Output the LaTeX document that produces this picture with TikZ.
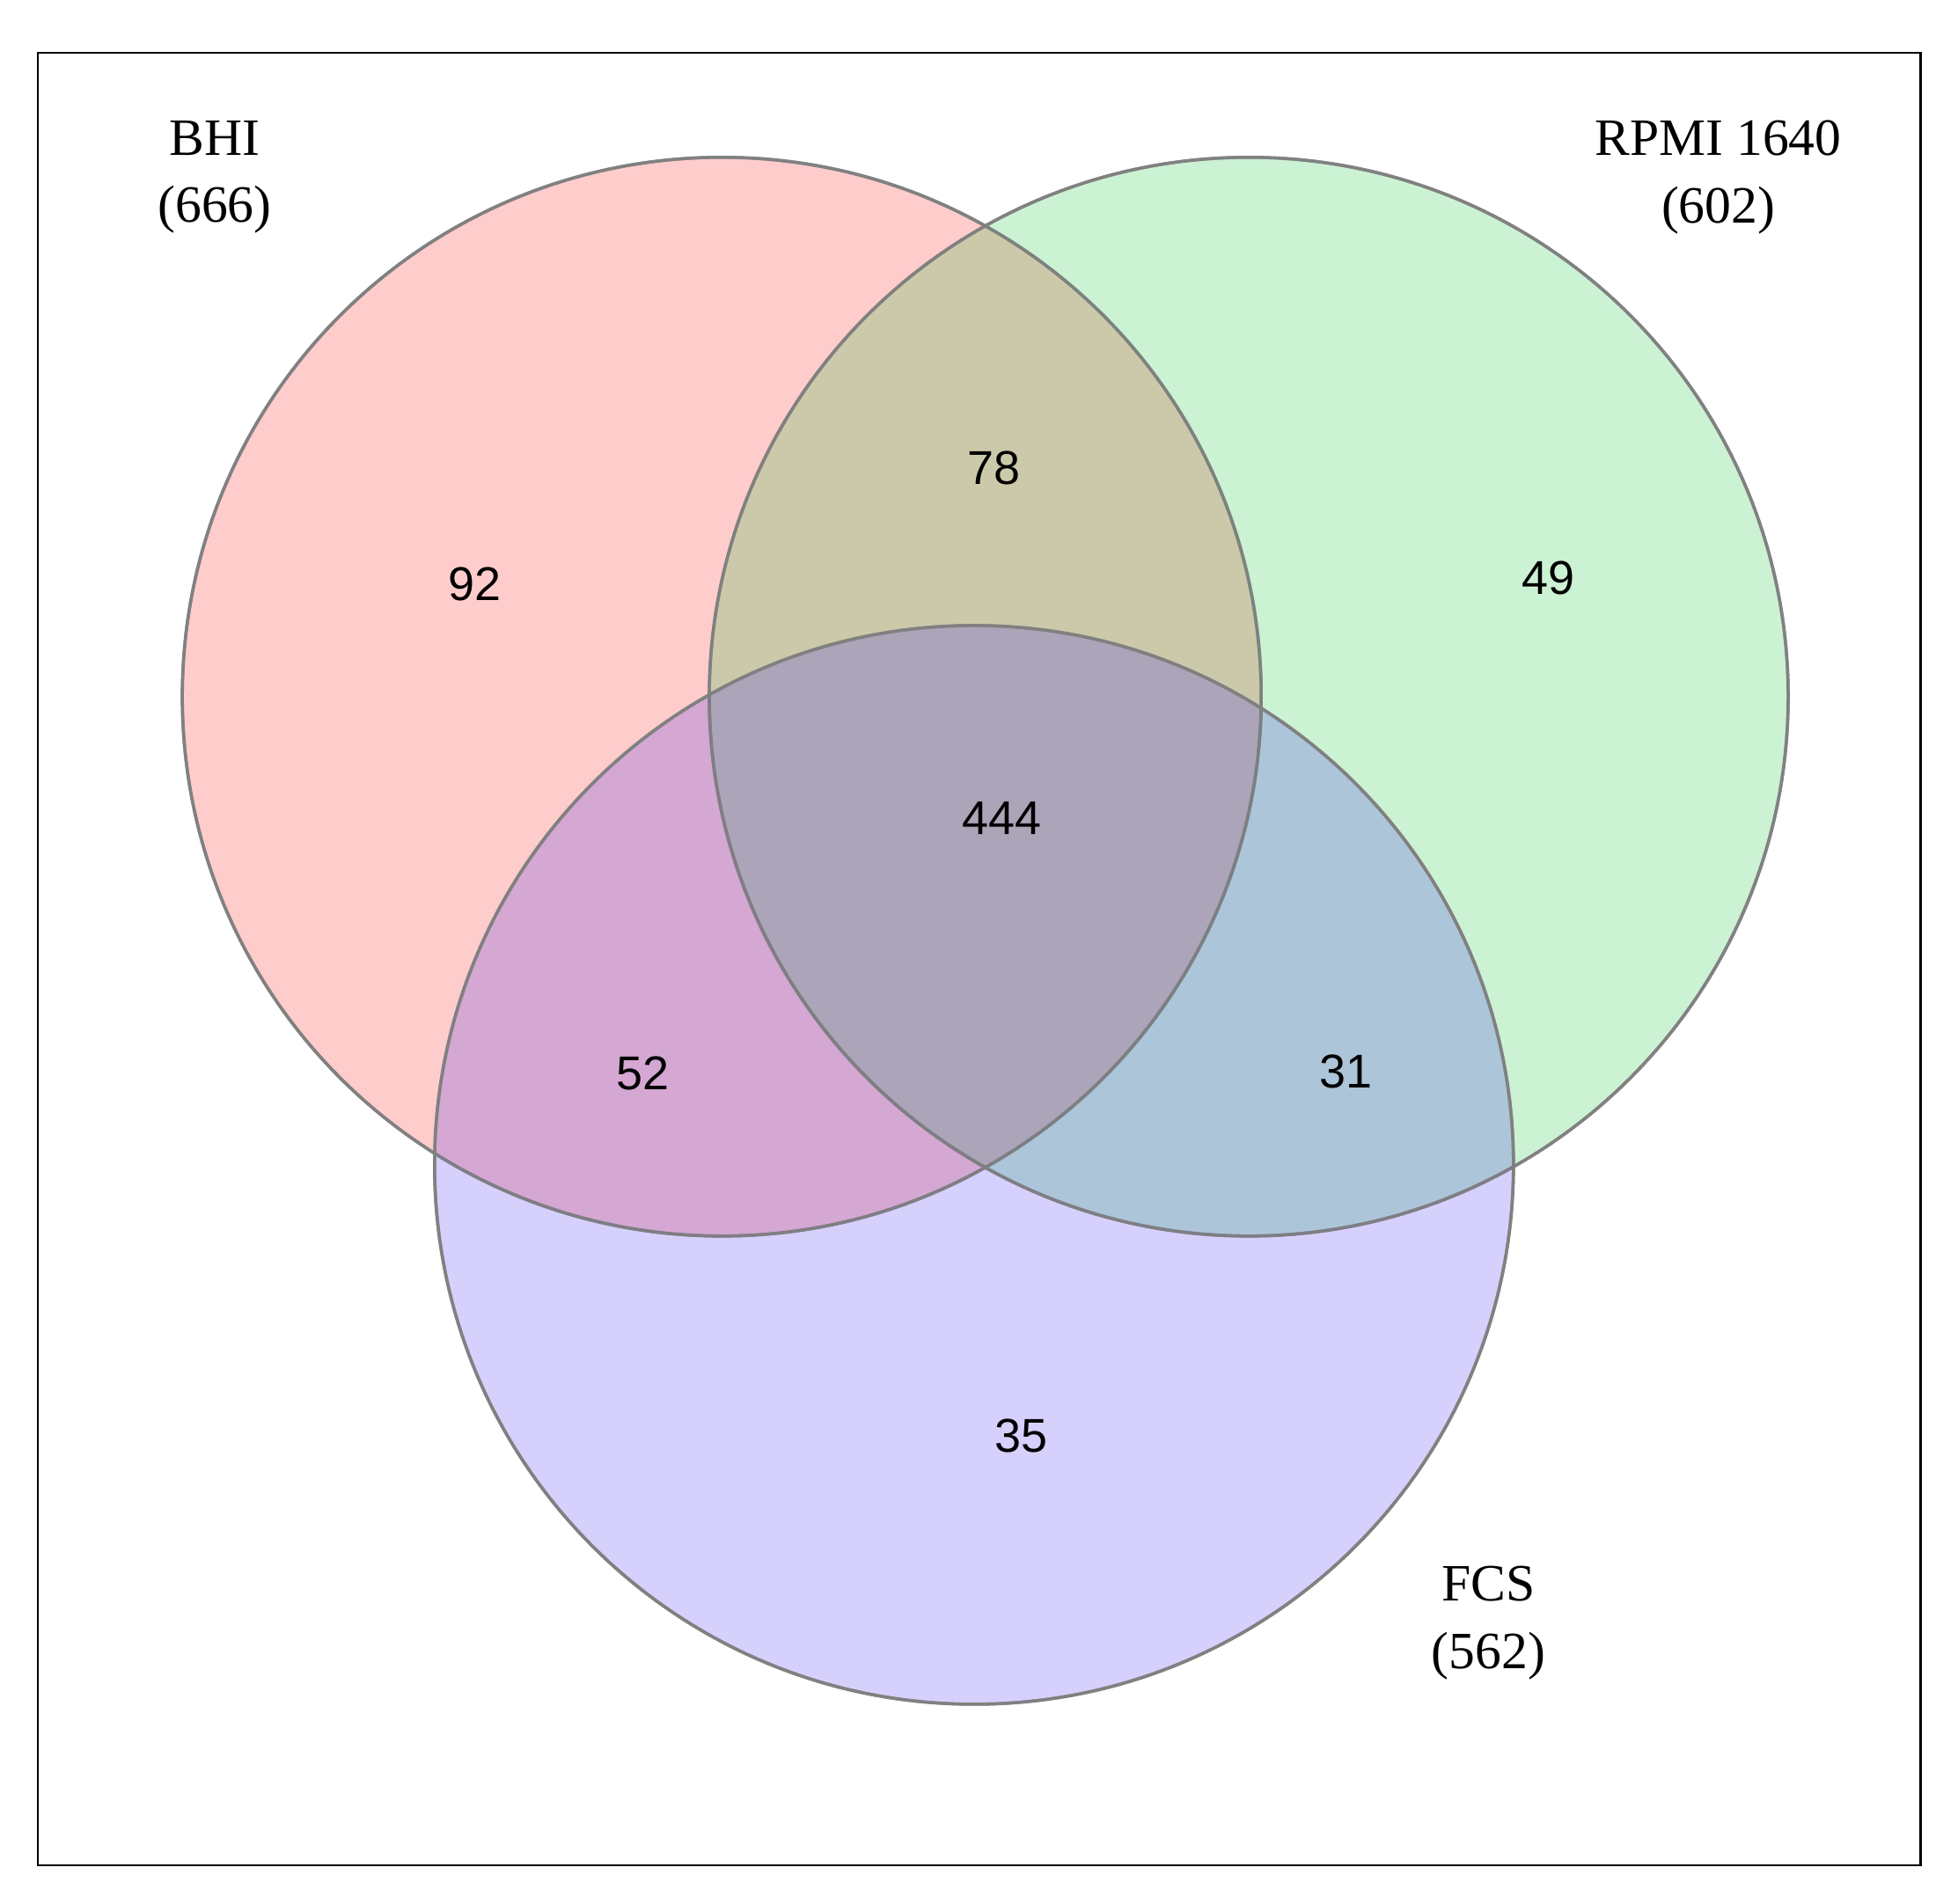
\documentclass[tikz,border=0pt]{standalone}
\usepackage{fontspec}
\setmainfont{Liberation Serif}
\newfontfamily\numfont{Liberation Sans}
\begin{document}
\begin{tikzpicture}[x=1pt,y=-1pt,
  setc/.style={draw=gray, line width=2.5pt, fill opacity=0.2, draw opacity=0.9},
  num/.style={font=\numfont\fontsize{38}{44}\selectfont},
  lab/.style={font=\fontsize{42}{54}\selectfont, align=center}]
\useasboundingbox (0,0) rectangle (1568,1525);
\draw[line width=1.5pt] (30,42) rectangle (1538,1494);
\fill[setc, fill={rgb,255:red,255;green,0;blue,0}] (578,558) circle (432);
\fill[setc, fill={rgb,255:red,0;green,190;blue,40}] (1000,558) circle (432);
\fill[setc, fill={rgb,255:red,45;green,20;blue,240}] (780,933) circle (432);
\draw[setc, fill=none] (578,558) circle (432);
\draw[setc, fill=none] (1000,558) circle (432);
\draw[setc, fill=none] (780,933) circle (432);
\node[num] (n92) at (380,468) {92};
\node[num] (n78) at (796,375) {78};
\node[num] (n49) at (1240,463) {49};
\node[num] (n444) at (802,655) {444};
\node[num] (n52) at (515,860) {52};
\node[num] (n31) at (1078,858) {31};
\node[num] (n35) at (818,1150) {35};
\node[lab] (bhi) at (172,142) {BHI\\(666)};
\node[lab] (rpmi) at (1376,142) {RPMI 1640\\(602)};
\node[lab] (fcs) at (1192,1300) {FCS\\(562)};
\end{tikzpicture}
\end{document}
